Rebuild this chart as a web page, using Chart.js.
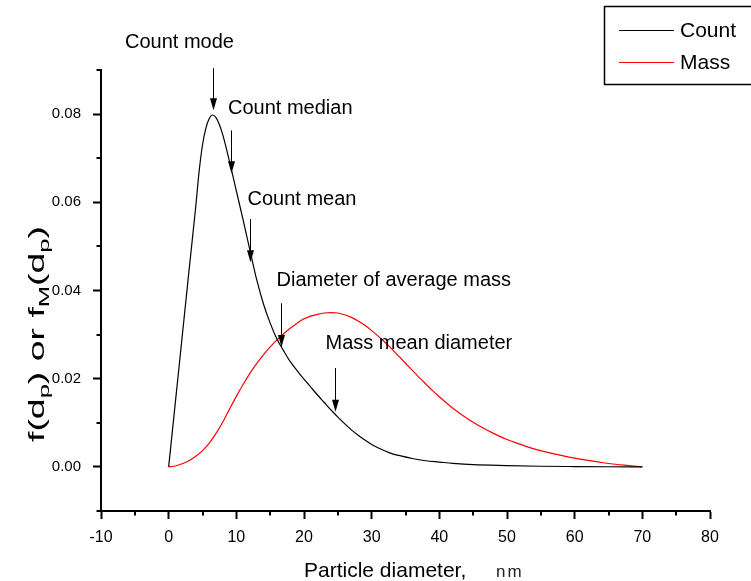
<!DOCTYPE html>
<html>
<head>
<meta charset="utf-8">
<script src="https://cdn.jsdelivr.net/npm/chart.js@4.4.1/dist/chart.umd.min.js"></script>
<style>
  html, body { margin: 0; padding: 0; background: #fff; }
  #wrap { width: 751px; height: 581px; }
</style>
</head>
<body>
<div id="wrap"><canvas id="c" width="751" height="581"></canvas></div>
<script>
// Number distribution f(dp) of particle diameter (nm)
const countDiameters = [0, 1, 2, 3, 4, 4.5, 5, 5.5, 6, 6.5, 7, 7.5, 8, 9, 10, 11, 12, 13, 14, 15, 16, 17, 18, 19,
  20, 21, 22, 23, 24, 25, 26, 27, 28, 29, 30, 31, 32, 33, 34, 36, 38, 40, 42, 45, 50, 55, 60, 65, 70];
const countValues = [0, 0.0148, 0.0296, 0.0444, 0.0590, 0.0670, 0.0730, 0.0768, 0.0790, 0.0798, 0.0792,
  0.0776, 0.0753, 0.0692, 0.0626, 0.0560, 0.0492, 0.0425, 0.0370, 0.0326, 0.0290, 0.0263, 0.0238,
  0.0218, 0.0199, 0.0181, 0.0163, 0.0146, 0.0129, 0.0113, 0.0098, 0.0084, 0.0072, 0.0061, 0.0051,
  0.0043, 0.0036, 0.0030, 0.0026, 0.0019, 0.0014, 0.0011, 0.0008, 0.0005, 0.0003, 0.00015, 0.00008,
  0.00003, 0];

// Mass distribution fM(dp)
const massDiameters = [0, 1, 2, 3, 4, 5, 6, 7, 8, 9, 10, 11, 12, 13, 14, 15, 16, 17, 18, 19, 20,
  21, 22, 23, 24, 25, 26, 27, 28, 29, 30, 31, 32, 33, 34, 35, 36, 37, 38, 39, 40,
  42, 44, 46, 48, 50, 52, 54, 56, 58, 60, 62, 64, 66, 68, 70];
const massValues = [0, 0.0002, 0.0007, 0.0014, 0.0024, 0.0037, 0.0054, 0.0076, 0.0102, 0.0131, 0.0160,
  0.0187, 0.0212, 0.0234, 0.0254, 0.0272, 0.0288, 0.0302, 0.0315, 0.0326, 0.0336,
  0.0342, 0.0346, 0.0349, 0.0350, 0.0349, 0.0345, 0.0339, 0.0331, 0.0321, 0.0309,
  0.0296, 0.0282, 0.0267, 0.0251, 0.0235, 0.0219, 0.0203, 0.0188, 0.0173, 0.0159,
  0.0133, 0.0111, 0.0092, 0.0076, 0.0062, 0.0051, 0.0041, 0.0033, 0.0026, 0.0020,
  0.0015, 0.0010, 0.0006, 0.0003, 0];

const seriesNames = ['Count', 'Mass'];

// Tick values
const xTickValues = [-10, 0, 10, 20, 30, 40, 50, 60, 70, 80];
const xMinorValues = [-5, 5, 15, 25, 35, 45, 55, 65, 75];
const yTickValues = [0, 0.02, 0.04, 0.06, 0.08];
const yMinorValues = [-0.01, 0.01, 0.03, 0.05, 0.07, 0.09];

// Characteristic diameters marked with arrows
const statLabels = ['Count mode', 'Count median', 'Count mean', 'Diameter of average mass', 'Mass mean diameter'];
const statDiameters = [6.55, 9.27, 11.97, 16.55, 24.63];
const arrowTopValues = [0.0904, 0.0763, 0.0562, 0.0371, 0.0224];
const arrowTipValues = [0.0809, 0.0666, 0.0464, 0.0272, 0.0125];

const FONT = '"Liberation Sans", Arial, Helvetica, sans-serif';

const toPoints = (xs, ys) => xs.map((x, i) => ({ x: x, y: ys[i] }));

// Minor ticks, arrows with labels, axis titles and legend box
const decorations = {
  id: 'decorations',
  afterDraw(chart) {
    const ctx = chart.ctx;
    const xs = chart.scales.x, ys = chart.scales.y;
    const left = chart.chartArea.left, bottom = chart.chartArea.bottom;
    ctx.save();

    // minor ticks
    ctx.strokeStyle = '#000';
    ctx.lineWidth = 2;
    ctx.beginPath();
    xMinorValues.forEach(v => {
      const p = Math.round(xs.getPixelForValue(v));
      ctx.moveTo(p, bottom); ctx.lineTo(p, bottom + 4.5);
    });
    yMinorValues.forEach(v => {
      const p = Math.round(ys.getPixelForValue(v));
      ctx.moveTo(left - 4.5, p); ctx.lineTo(left, p);
    });
    ctx.stroke();

    // arrows and their labels
    const labelOffsets = [[-34, -26, 'center'], [-3.5, -22, 'left'], [-3, -20, 'left'], [-5, -23, 'left'], [-10, -25, 'left']];
    ctx.font = '20px ' + FONT;
    ctx.fillStyle = '#000';
    ctx.textBaseline = 'middle';
    statLabels.forEach((label, i) => {
      const ax = Math.round(xs.getPixelForValue(statDiameters[i])) + 0.5;
      const y1 = ys.getPixelForValue(arrowTopValues[i]);
      const y2 = ys.getPixelForValue(arrowTipValues[i]);
      ctx.lineWidth = 1;
      ctx.beginPath();
      ctx.moveTo(ax, y1); ctx.lineTo(ax, y2 - 10);
      ctx.stroke();
      ctx.beginPath();
      ctx.moveTo(ax - 3.5, y2 - 12);
      ctx.lineTo(ax + 3.5, y2 - 12);
      ctx.lineTo(ax, y2);
      ctx.closePath();
      ctx.fill();
      const off = labelOffsets[i];
      ctx.textAlign = off[2];
      ctx.fillText(label, ax + off[0], y1 + off[1]);
    });

    // x-axis title
    ctx.textAlign = 'left';
    ctx.textBaseline = 'alphabetic';
    ctx.font = '21px ' + FONT;
    ctx.fillText('Particle diameter,', 304, 577);
    ctx.font = '17px ' + FONT;
    ctx.fillStyle = '#222';
    if ('letterSpacing' in ctx) ctx.letterSpacing = '2px';
    ctx.fillText('nm', 496, 577);
    if ('letterSpacing' in ctx) ctx.letterSpacing = '0px';

    // y-axis title with subscripts, stretched along its run
    ctx.fillStyle = '#000';
    const parts = [['f(d', 0], ['p', 1], [') or f', 0], ['M', 1], ['(d', 0], ['p', 1], [')', 0]];
    const mainFont = '22px ' + FONT, subFont = '15px ' + FONT;
    let total = 0;
    parts.forEach(p => { ctx.font = p[1] ? subFont : mainFont; total += ctx.measureText(p[0]).width; });
    const span = 216;
    ctx.translate(44, 334);
    ctx.rotate(-Math.PI / 2);
    ctx.scale(span / total, 1);
    let cx = -total / 2;
    parts.forEach(p => {
      ctx.font = p[1] ? subFont : mainFont;
      ctx.fillText(p[0], cx, p[1] ? 5 : 0);
      cx += ctx.measureText(p[0]).width;
    });
    ctx.setTransform(1, 0, 0, 1, 0, 0);

    // legend box
    ctx.lineWidth = 1.5;
    ctx.strokeStyle = '#000';
    ctx.strokeRect(604.5, 6.5, 160, 78);
    ctx.font = '21px ' + FONT;
    ctx.textBaseline = 'middle';
    chart.data.datasets.forEach((ds, i) => {
      const ly = 30 + i * 32;
      ctx.strokeStyle = ds.borderColor;
      ctx.lineWidth = 1;
      ctx.beginPath();
      ctx.moveTo(619, ly + 0.5); ctx.lineTo(674, ly + 0.5);
      ctx.stroke();
      ctx.fillStyle = '#000';
      ctx.fillText(ds.label, 680, ly + 1);
    });
    ctx.restore();
  }
};

new Chart(document.getElementById('c'), {
  type: 'line',
  data: {
    datasets: [
      { label: seriesNames[0], data: toPoints(countDiameters, countValues), borderColor: '#000000',
        borderWidth: 1.2, pointRadius: 0, cubicInterpolationMode: 'monotone', fill: false },
      { label: seriesNames[1], data: toPoints(massDiameters, massValues), borderColor: '#ff0000',
        borderWidth: 1.2, pointRadius: 0, cubicInterpolationMode: 'monotone', fill: false }
    ]
  },
  options: {
    responsive: false,
    animation: false,
    events: [],
    layout: { padding: { left: 0, top: 70, right: 41, bottom: 0 } },
    plugins: { legend: { display: false }, tooltip: { enabled: false }, title: { display: false } },
    scales: {
      x: {
        type: 'linear', min: -10, max: 80,
        afterBuildTicks: s => { s.ticks = xTickValues.map(v => ({ value: v })); },
        afterFit: s => { s.height = 70; },
        border: { display: true, color: '#000', width: 2 },
        grid: { drawOnChartArea: false, drawTicks: true, tickLength: 8, tickWidth: 2, tickColor: '#000' },
        ticks: { color: '#000', font: { family: FONT, size: 16 }, padding: 9, maxRotation: 0,
          callback: v => String(v) }
      },
      y: {
        type: 'linear', min: -0.01, max: 0.09,
        afterBuildTicks: s => { s.ticks = yTickValues.map(v => ({ value: v })); },
        afterFit: s => { s.width = 101; },
        border: { display: true, color: '#000', width: 2 },
        grid: { drawOnChartArea: false, drawTicks: true, tickLength: 8, tickWidth: 2, tickColor: '#000' },
        ticks: { color: '#000', font: { family: FONT, size: 15 }, padding: 12,
          callback: v => Number(v).toFixed(2) }
      }
    }
  },
  plugins: [decorations]
});
</script>
</body>
</html>
